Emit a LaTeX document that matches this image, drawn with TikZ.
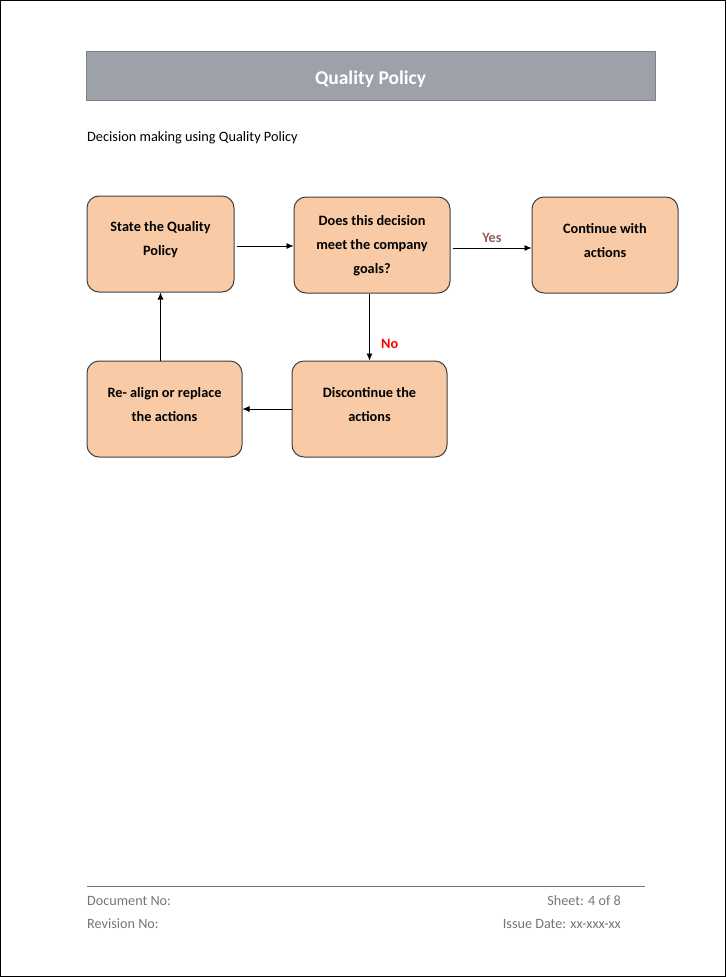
\documentclass[tikz,border=0pt]{standalone}
\usepackage{fontspec}
\setmainfont{Carlito}
\usetikzlibrary{arrows.meta}
\definecolor{boxfill}{HTML}{F8CBA6}
\definecolor{boxline}{HTML}{404040}
\definecolor{barfill}{HTML}{9DA1A9}
\definecolor{yescol}{HTML}{9A5B5E}
\definecolor{footcol}{HTML}{767676}
\tikzset{
  flowbox/.style={draw=boxline, fill=boxfill, rounded corners=12pt, line width=1pt,
    minimum height=96pt},
  boxtext/.style={align=center, font=\fontsize{14.3}{24}\selectfont\bfseries},
  flowarrow/.style={-{Latex[length=7pt,width=6pt]}, line width=0.8pt},
  foottext/.style={text=footcol, font=\fontsize{14.2}{16}\selectfont, inner sep=0pt}
}
\begin{document}
\begin{tikzpicture}[x=1pt,y=-1pt]
\draw[black, line width=1pt] (0.5,0.5) rectangle (725.5,976.5);
\useasboundingbox (0,0) rectangle (726,977);
% heading
\node[draw=gray, fill=barfill, line width=0.8pt, minimum width=569pt, minimum height=49pt,
  label={[text=white, font=\fontsize{19.5}{22}\selectfont\bfseries, yshift=-4pt]center:Quality Policy}] (bar) at (370.5,75.5) {};
\node[anchor=west, inner sep=0pt, font=\fontsize{14.3}{16}\selectfont] (sub) at (87,138) {Decision making using Quality Policy};
% boxes
\node[flowbox, minimum width=147pt, label={[boxtext, yshift=4pt]center:State the Quality\\Policy}] (state) at (160.5,244) {};
\node[flowbox, minimum width=156pt, label={[boxtext, yshift=-1pt]center:Does this decision\\meet the company\\goals?}] (goals) at (372,245) {};
\node[flowbox, minimum width=146pt, label={[boxtext, yshift=4pt]center:Continue with\\actions}] (cont) at (605,245) {};
\node[flowbox, minimum width=155pt, label={[boxtext, yshift=4pt]center:Re- align or replace\\the actions}] (realign) at (164.5,409) {};
\node[flowbox, minimum width=155pt, label={[boxtext, yshift=4pt]center:Discontinue the\\actions}] (stop) at (369.5,409) {};
% connectors
\draw[flowarrow] (state.east) ++(2,2) coordinate (s1) -- (s1 -| goals.west);
\draw[flowarrow] (goals.east) ++(2,3) coordinate (g1) -- (g1 -| cont.west)
  node[midway, above=2pt, text=yescol, font=\fontsize{14.3}{16}\selectfont\bfseries] (yes) {Yes};
\draw[flowarrow] (stop.north |- goals.south) coordinate (g2) -- (stop.north)
  node[pos=0.75, right=8pt, text=red, font=\fontsize{14.3}{16}\selectfont\bfseries] (no) {No};
\draw[flowarrow] (stop.west) -- (realign.east);
\draw[flowarrow] (state.south |- realign.north) coordinate (r1) -- (state.south -| r1);
% footer
\draw[footcol, line width=0.8pt] (87,886) -- (645,886);
\node[foottext, anchor=west] (docno) at (87,901) {Document No:};
\node[foottext, anchor=west] (revno) at (87,924) {Revision No:};
\node[foottext, anchor=east] (sheet) at (621,901) {Sheet: 4 of 8};
\node[foottext, anchor=east] (issue) at (621,924) {Issue Date: xx-xxx-xx};
\end{tikzpicture}
\end{document}
